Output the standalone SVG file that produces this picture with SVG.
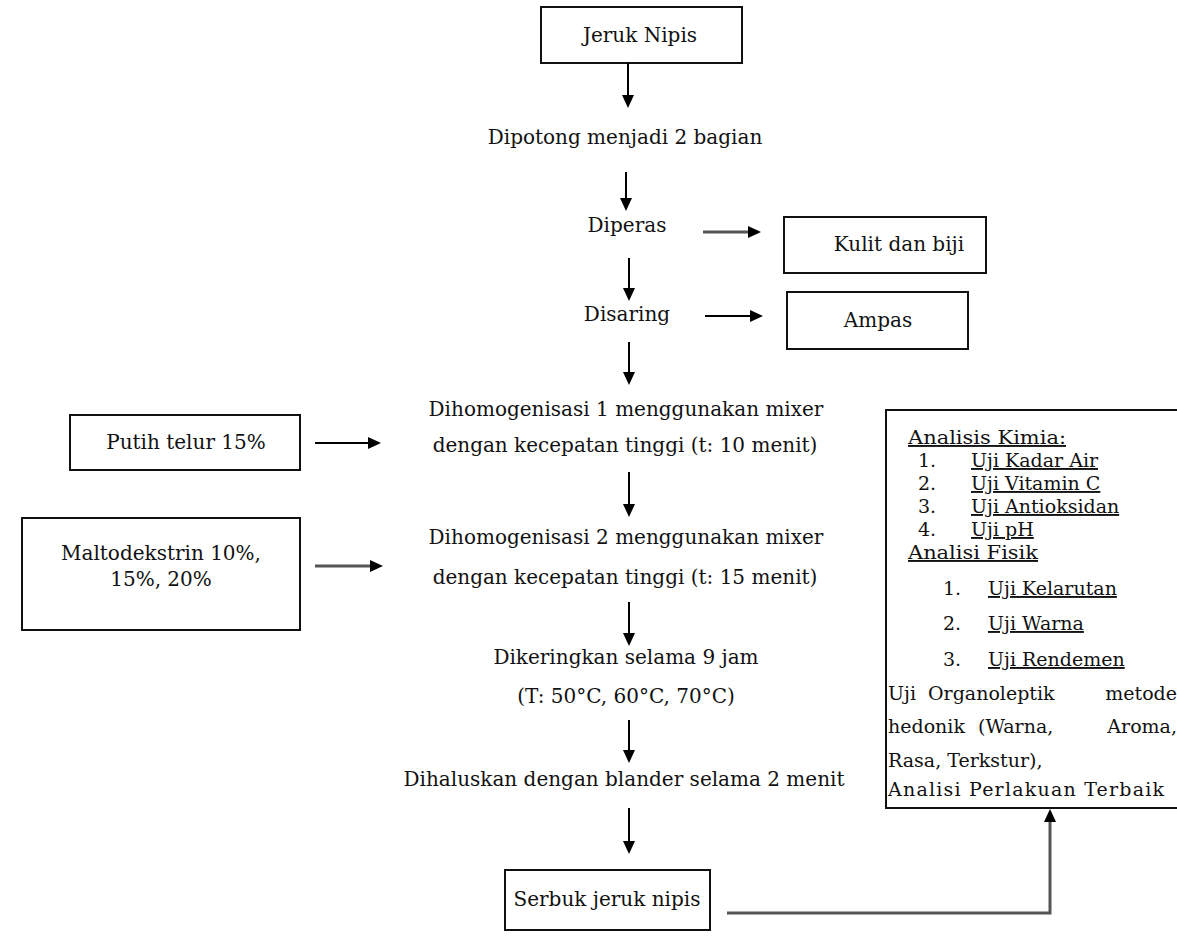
<svg xmlns="http://www.w3.org/2000/svg" width="1177" height="944" viewBox="0 0 1177 944" font-family="'DejaVu Serif', serif">
<defs>
<style>
text{font-family:'DejaVu Serif','Liberation Serif',serif;font-size:20px;fill:#111}
.s{font-size:19px}
.c{text-anchor:middle}
.e{text-anchor:end}
.u{text-decoration:underline}
.box{fill:#fff;stroke:#111;stroke-width:2}
.ln{stroke:#000;stroke-width:2;fill:none}
.gl{stroke:#555;stroke-width:3;fill:none}
.ah{fill:#000}
</style>
</defs>
<rect width="1177" height="944" fill="#fff"/>
<g id="n-jeruk"><rect class="box" x="541" y="7" width="201" height="56"/><text class="c" x="640" y="42">Jeruk Nipis</text></g>
<g id="n-dipotong"><text class="c" x="625" y="144">Dipotong menjadi 2 bagian</text></g>
<g id="n-diperas"><text class="c" x="627" y="232">Diperas</text></g>
<g id="n-kulit"><rect class="box" x="784" y="217" width="202" height="56"/><text class="c" x="899" y="251">Kulit dan biji</text></g>
<g id="n-disaring"><text class="c" x="627" y="321">Disaring</text></g>
<g id="n-ampas"><rect class="box" x="787" y="292" width="181" height="57"/><text class="c" x="878" y="327">Ampas</text></g>
<g id="n-homo1"><text class="c" x="626" y="416">Dihomogenisasi 1 menggunakan mixer</text><text class="c" x="625" y="452">dengan kecepatan tinggi (t: 10 menit)</text></g>
<g id="n-putih"><rect class="box" x="70" y="415" width="230" height="55"/><text class="c" x="186" y="449">Putih telur 15%</text></g>
<g id="n-homo2"><text class="c" x="626" y="544">Dihomogenisasi 2 menggunakan mixer</text><text class="c" x="625" y="584">dengan kecepatan tinggi (t: 15 menit)</text></g>
<g id="n-malto"><rect class="box" x="22" y="518" width="278" height="112"/><text class="c" x="161" y="560">Maltodekstrin 10%,</text><text class="c" x="161" y="586">15%, 20%</text></g>
<g id="n-kering"><text class="c" x="626" y="664">Dikeringkan selama 9 jam</text><text class="c" x="626" y="703">(T: 50°C, 60°C, 70°C)</text></g>
<g id="n-halus"><text class="c" x="624" y="786">Dihaluskan dengan blander selama 2 menit</text></g>
<g id="n-serbuk"><rect class="box" x="505" y="870" width="205" height="60"/><text class="c" x="607" y="906">Serbuk jeruk nipis</text></g>
<g id="n-analisis">
<rect class="box" x="886" y="410" width="310" height="398"/>
<text class="u s" x="908" y="444" textLength="158" lengthAdjust="spacingAndGlyphs">Analisis Kimia:</text>
<text class="s" x="918" y="467">1.</text><text class="u s" x="971" y="467">Uji Kadar Air</text>
<text class="s" x="918" y="490">2.</text><text class="u s" x="971" y="490">Uji Vitamin C</text>
<text class="s" x="918" y="513">3.</text><text class="u s" x="971" y="513">Uji Antioksidan</text>
<text class="s" x="918" y="536">4.</text><text class="u s" x="971" y="536">Uji pH</text>
<text class="u s" x="908" y="559" textLength="130" lengthAdjust="spacingAndGlyphs">Analisi Fisik</text>
<text class="s" x="943" y="595">1.</text><text class="u s" x="988" y="595">Uji Kelarutan</text>
<text class="s" x="943" y="630">2.</text><text class="u s" x="988" y="630">Uji Warna</text>
<text class="s" x="943" y="666">3.</text><text class="u s" x="988" y="666">Uji Rendemen</text>
<text class="s" x="888" y="700">Uji</text><text class="s" x="928" y="700">Organoleptik</text><text class="s e" x="1177" y="700">metode</text>
<text class="s" x="888" y="733">hedonik</text><text class="s" x="978" y="733">(Warna,</text><text class="s e" x="1177" y="733">Aroma,</text>
<text class="s" x="888" y="767">Rasa, Terkstur),</text>
<text class="s" x="888" y="796" textLength="276" lengthAdjust="spacing">Analisi Perlakuan Terbaik</text>
</g>
<g id="connectors">
<line class="ln" x1="628" y1="63" x2="628" y2="96"/><path class="ah" d="M622,95 L628,108 L634,95 z"/>
<line class="ln" x1="626" y1="172" x2="626" y2="199"/><path class="ah" d="M620,198 L626,211 L632,198 z"/>
<line class="gl" x1="703" y1="232" x2="750" y2="232"/><path class="ah" d="M748,226 L761,232 L748,238 z"/>
<line class="ln" x1="629" y1="258" x2="629" y2="289"/><path class="ah" d="M623,288 L629,301 L635,288 z"/>
<line class="ln" x1="705" y1="316" x2="752" y2="316"/><path class="ah" d="M750,310 L763,316 L750,322 z"/>
<line class="ln" x1="629" y1="342" x2="629" y2="373"/><path class="ah" d="M623,372 L629,385 L635,372 z"/>
<line class="ln" x1="315" y1="443" x2="370" y2="443"/><path class="ah" d="M368,437 L381,443 L368,449 z"/>
<line class="ln" x1="629" y1="472" x2="629" y2="505"/><path class="ah" d="M623,504 L629,517 L635,504 z"/>
<line class="gl" x1="315" y1="566" x2="372" y2="566"/><path class="ah" d="M370,560 L383,566 L370,572 z"/>
<line class="ln" x1="629" y1="602" x2="629" y2="634"/><path class="ah" d="M623,633 L629,646 L635,633 z"/>
<line class="ln" x1="629" y1="720" x2="629" y2="751"/><path class="ah" d="M623,750 L629,763 L635,750 z"/>
<line class="ln" x1="629" y1="808" x2="629" y2="842"/><path class="ah" d="M623,841 L629,854 L635,841 z"/>
<polyline class="gl" points="727,913 1050,913 1050,820"/>
<path class="ah" d="M1044,822 L1050,809 L1056,822 z"/>
</g>
</svg>
